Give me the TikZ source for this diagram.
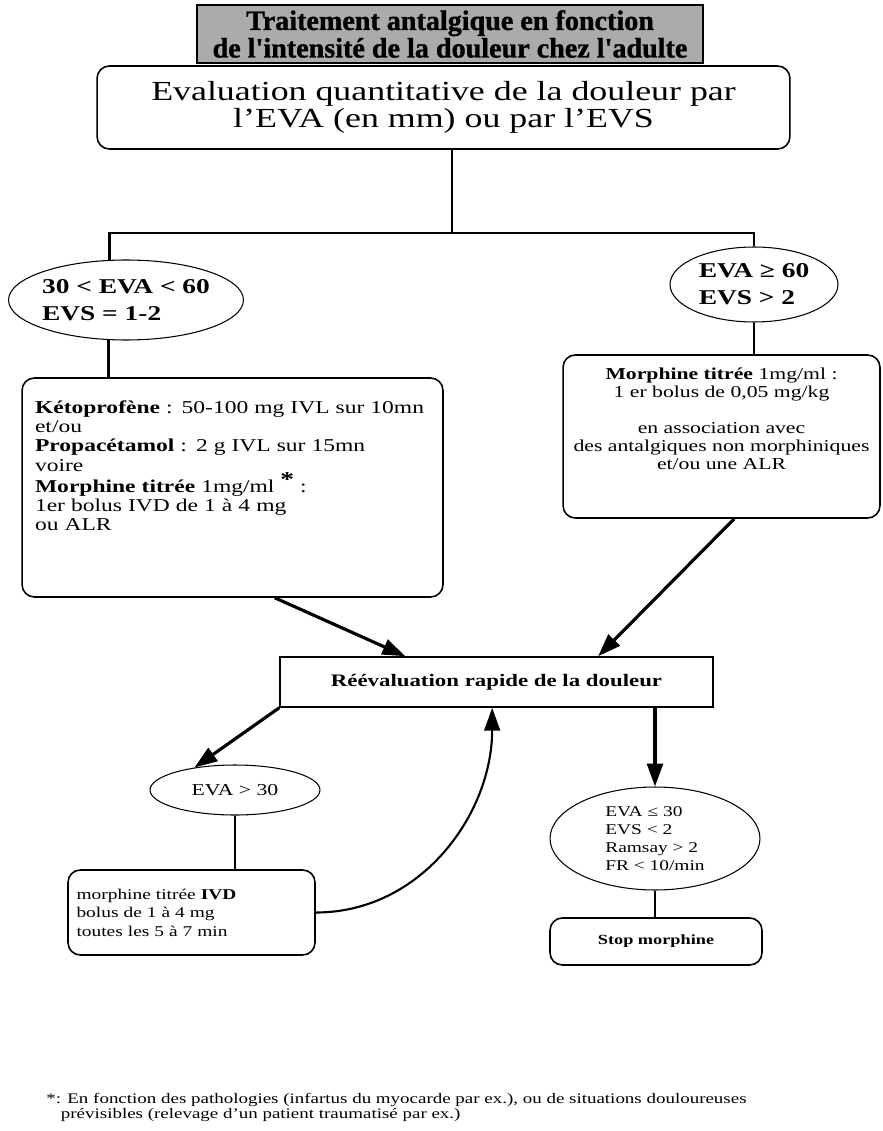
\documentclass[tikz,border=0pt]{standalone}
\usepackage{fontspec}
\setmainfont{Liberation Serif}[FakeStretch=1.3]
\newfontfamily\titlefont{Liberation Serif Bold}[FakeBold=1.2]
\usetikzlibrary{shapes.geometric,arrows.meta,calc}

\tikzset{
  titlebox/.style={draw, line width=1.2pt, fill=black!33, align=center, inner sep=3pt,
    font=\fontsize{16}{13.4}\selectfont\titlefont},
  roundbox/.style={draw, rounded corners=7pt, line width=0.9pt},
  plainbox/.style={draw, line width=0.9pt},
  oval/.style={draw, ellipse, line width=0.6pt, inner sep=-3pt},
  link/.style={line width=1.6pt},
  flow/.style={line width=1.8pt, -{Triangle[length=13pt,width=9pt]}},
}

\begin{document}
\begin{tikzpicture}[x=0.02cm, y=-0.02cm]
    \useasboundingbox (0,0) rectangle (882,1131);

    % Title
    \node[titlebox, minimum width=10.12cm, minimum height=1cm] (title) at (450,34)
        {Traitement antalgique en fonction\\de l'intensité de la douleur chez l'adulte};

    % Evaluation
    \node[roundbox, minimum width=13.86cm, minimum height=1.66cm, align=center,
        font=\fontsize{15.7}{15.5}\selectfont] (evalq) at (443.5,107.5)
        {Evaluation quantitative de la douleur par\\l'EVA (en mm) ou par l'EVS};
    \coordinate (split) at (452,233);

    % Two levels
    \node[oval, minimum width=4.7cm, minimum height=1.6cm, align=left,
        font=\fontsize{12}{15.5}\selectfont\bfseries] (evaA) at (126,300)
        {30 < EVA < 60\\EVS = 1-2};
    \node[oval, minimum width=3.36cm, minimum height=1.5cm, align=left,
        font=\fontsize{12}{15.5}\selectfont\bfseries] (evaB) at (754,284.5)
        {EVA ≥ 60\\EVS > 2};

    % Treatments
    \node[roundbox, minimum width=8.42cm, minimum height=4.38cm, text width=7.9cm,
        align=left, font=\fontsize{10.3}{11}\selectfont] (dose) at (232.5,487.5)
        {\textbf{Kétoprofène} : 50-100 mg IVL sur 10mn\\
         et/ou\\
         \textbf{Propacétamol} : 2 g IVL sur 15mn\\
         voire\\
         \textbf{Morphine titrée} 1mg/ml \raisebox{3pt}{\large\bfseries *} :\\
         1er bolus IVD de 1 à 4 mg\\
         ou ALR\\[14pt]\mbox{}};
    \node[roundbox, minimum width=6.34cm, minimum height=3.26cm, align=center,
        font=\fontsize{9.5}{10.2}\selectfont] (morph) at (721.5,436.5)
        {\textbf{Morphine titrée} 1mg/ml :\\
         1 er bolus de 0,05 mg/kg\\[10.5pt]
         en association avec\\
         des antalgiques non morphiniques\\
         et/ou une ALR\\[10pt]\mbox{}};

    % Reevaluation
    \node[plainbox, minimum width=8.66cm, minimum height=1cm,
        font=\fontsize{10}{12}\selectfont\bfseries] (reval) at (496.5,682)
        {Réévaluation rapide de la douleur};

    % Loop
    \node[oval, minimum width=3.4cm, minimum height=1cm,
        font=\fontsize{9.5}{11}\selectfont] (evaC) at (235,790) {EVA > 30};
    \node[roundbox, minimum width=4.94cm, minimum height=1.7cm, text width=4.6cm,
        align=left, font=\fontsize{8.5}{10.5}\selectfont] (titr) at (191.5,912.5)
        {morphine titrée \textbf{IVD}\\bolus de 1 à 4 mg\\toutes les 5 à 7 min};

    % Stop
    \node[oval, inner sep=-6pt, minimum width=4.2cm, minimum height=2.06cm, align=left,
        font=\fontsize{8.5}{10.2}\selectfont] (crit) at (655,838.5)
        {EVA ≤ 30\\EVS < 2\\Ramsay > 2\\FR < 10/min};
    \node[roundbox, minimum width=4.24cm, minimum height=0.94cm,
        font=\fontsize{8}{10}\selectfont\bfseries] (stop) at (656,941.5) {Stop morphine};

    % Footnote
    \node[anchor=north west, align=left, inner sep=0pt,
        font=\fontsize{8.3}{8.6}\selectfont] (note) at (46,1093)
        {*: En fonction des pathologies (infartus du myocarde par ex.), ou de situations douloureuses\\
         \hspace*{1em}prévisibles (relevage d'un patient traumatisé par ex.)};

    % Links
    \draw[link] (split |- evalq.south) -- (split);
    \draw[link] (evaA.112) |- (split) -| (evaB.north);
    \draw[link] (evaA.246) -- (evaA.246 |- dose.north);
    \draw[link] (evaB.south) -- (evaB.south |- morph.north);
    \draw[link] (evaC.south) -- (evaC.south |- titr.north);
    \draw[link] (crit.south) -- (crit.south |- stop.north);

    % Arrows
    \draw[flow] ($(dose.south west)!0.6!(dose.south east)$) -- ($(reval.north west)!0.29!(reval.north east)$);
    \draw[flow] ($(morph.south west)!0.54!(morph.south east)$) -- ($(reval.north west)!0.734!(reval.north east)$);
    \draw[flow] (reval.south west) -- (evaC.151);
    \draw[flow] (crit.north |- reval.south) -- (crit.north);
    \draw[flow, line width=1.2pt] (titr.east) to[out=0, in=-90] ($(reval.south west)!0.49!(reval.south east)$);
\end{tikzpicture}
\end{document}
